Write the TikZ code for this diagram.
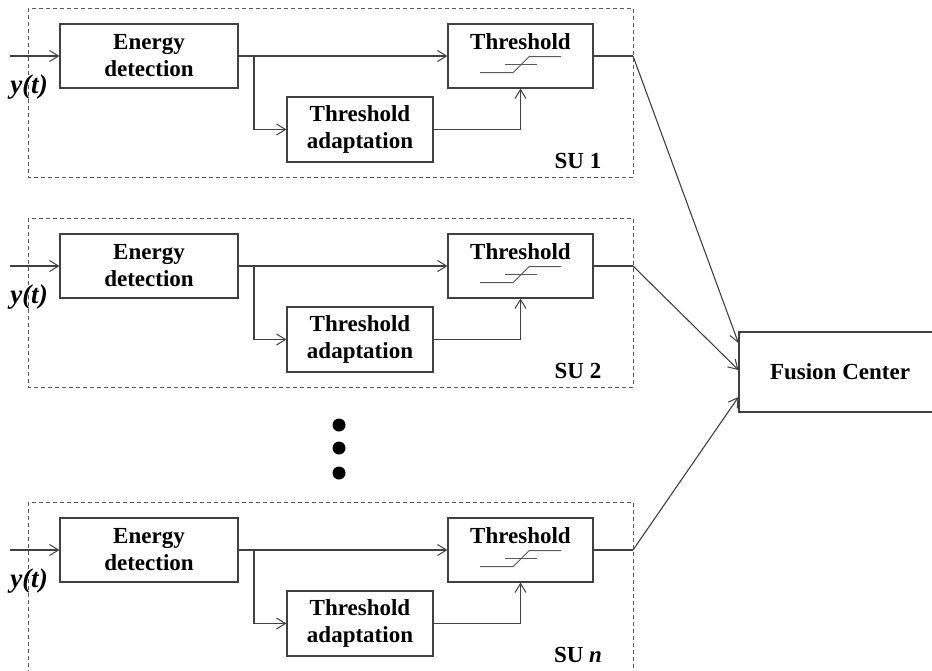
\documentclass[tikz,border=0pt]{standalone}
\usepackage{fontspec}
\setmainfont{Liberation Serif}
\usetikzlibrary{arrows.meta}
\begin{document}
\begin{tikzpicture}[x=1pt,y=-1pt,
  every node/.style={font=\fontsize{23}{27}\selectfont\bfseries, inner sep=0pt},
  blk/.style={draw=black!75, line width=1.1pt, fill=white, align=center},
  suframe/.style={draw=black!65, line width=1pt, dash pattern=on 4pt off 3pt},
  wire/.style={draw=black!75, line width=1.1pt},
  arr/.style={wire, -{Straight Barb[length=9pt,width=11pt,line width=1pt]}},
  stepsym/.style={draw=black!65, line width=1pt}]
\useasboundingbox (0,0) rectangle (932,670);
\clip (0,0) rectangle (932,670);
% Fusion center
\node[blk, minimum width=202pt, minimum height=80pt] (fc) at (840,372) {Fusion Center};
% dots
\foreach \yy [count=\d] in {425,448,473}
  \fill (339,\yy) circle (6.5pt) coordinate (dot\d);
\foreach \off/\k/\lab/\ys in {0/1/1/29pt, 210/2/2/2pt, 494/n/\textit{n}/-25pt}{
  \draw[suframe] (28,8+\off) rectangle (633,177+\off);
  \node[blk, minimum width=178pt, minimum height=64pt] (ed\k) at (149,56+\off) {Energy\\detection};
  \node[blk, minimum width=145pt, minimum height=64pt] (th\k) at (520.5,56+\off) {};
  \node (tht\k) at (520.5,42+\off) {Threshold};
  \draw[stepsym] (480,72.7+\off) -- (513,72.7+\off) -- (529,56.7+\off) -- (561,56.7+\off);
  \draw[stepsym] (505,64.3+\off) -- (537,64.3+\off);
  \node[blk, minimum width=146pt, minimum height=65pt] (ad\k) at (360,129.5+\off) {Threshold\\adaptation};
  \node (su\k) at (578,161+\off) {SU \lab};
  \node[font=\fontsize{27}{30}\selectfont\bfseries\itshape] (y\k) at (29,87+\off) {y(t)};
  \coordinate (in\k) at (10,56+\off);
  \coordinate (br\k) at (254,56+\off);
  \coordinate (out\k) at (633,56+\off);
  \draw[arr] (in\k) -- (ed\k.west);
  \draw[arr] (ed\k.east) -- (th\k.west);
  \draw[arr] (br\k) |- (ad\k.west);
  \draw[arr] (ad\k.east) -| (th\k.south);
  \draw[wire] (th\k.east) -- (out\k);
  \draw[arr] (out\k) -- ([yshift=\ys]fc.west);
}
\end{tikzpicture}
\end{document}
